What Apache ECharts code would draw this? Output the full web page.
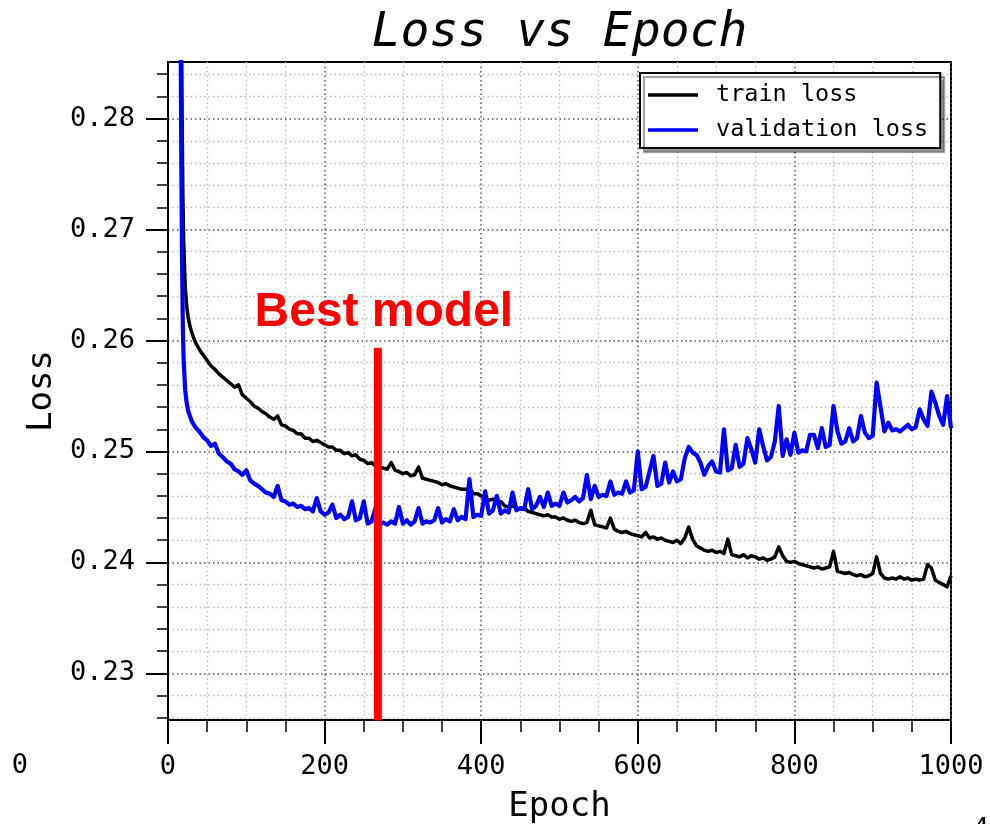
<!DOCTYPE html>
<html>
<head>
<meta charset="utf-8">
<script src="https://cdn.jsdelivr.net/npm/echarts@6/dist/echarts.min.js"></script>
<style>
html,body{margin:0;padding:0;background:#fff;}
#chart{width:990px;height:824px;}
</style>
</head>
<body>
<div id="chart"></div>
<script>
// ---- data ----
const titleText = 'Loss vs Epoch';
const xName = 'Epoch';
const yName = 'Loss';
const seriesNames = ['train loss', 'validation loss'];
const xTicks = [0, 200, 400, 600, 800, 1000];
const yTicks = [0.23, 0.24, 0.25, 0.26, 0.27, 0.28];
const yRange = [0.2258, 0.2851];
const xRange = [0, 1000];

// epochs sampled: dense at the start, then every 5 epochs
const epochs = [15, 16, 17, 18, 19, 20, 22, 24, 26, 28, 30, 33, 36, 40];
for (let e = 45; e <= 1000; e += 5) epochs.push(e);

const trainLoss = [
  0.340, 0.310, 0.292, 0.280, 0.273, 0.2690, 0.2648, 0.2630, 0.2620, 0.2613, 0.2608, 0.2602, 0.2597, 0.2592,
  0.2587, 0.2582, 0.2577, 0.2574, 0.2570, 0.2567, 0.2564, 0.2561, 0.2558, 0.2560,
  0.2551, 0.2548, 0.2545, 0.2541, 0.2539, 0.2536, 0.2534, 0.2531, 0.2529, 0.2532,
  0.2524, 0.2523, 0.2520, 0.2519, 0.2516, 0.2516, 0.2512, 0.2512, 0.2509, 0.2510,
  0.2508, 0.2506, 0.2504, 0.2504, 0.2501, 0.2501, 0.2498, 0.2499, 0.2496, 0.2497,
  0.2493, 0.2492, 0.2489, 0.2490, 0.2487, 0.2486, 0.2485, 0.2484, 0.2490, 0.2483,
  0.2482, 0.2480, 0.2481, 0.2478, 0.2479, 0.2486, 0.2476, 0.2475, 0.2474, 0.2473,
  0.2472, 0.2470, 0.2471, 0.2469, 0.2468, 0.2467, 0.2466, 0.2466, 0.2467, 0.2462,
  0.2462, 0.2460, 0.2458, 0.2456, 0.2457, 0.2454, 0.2455, 0.2451, 0.2450, 0.2451,
  0.2449, 0.2448, 0.2449, 0.2446, 0.2445, 0.2444, 0.2443, 0.2442, 0.2443, 0.2441,
  0.2441, 0.2439, 0.2440, 0.2438, 0.2437, 0.2438, 0.2436, 0.2435, 0.2436, 0.2447,
  0.2434, 0.2433, 0.2432, 0.2431, 0.2440, 0.2430, 0.2428, 0.2427, 0.2428, 0.2426,
  0.2425, 0.2424, 0.2423, 0.2427, 0.2422, 0.2423, 0.2421, 0.2422, 0.2420, 0.2419,
  0.2418, 0.2420, 0.2417, 0.2422, 0.2432, 0.2421, 0.2415, 0.2413, 0.2411, 0.2410,
  0.2411, 0.2409, 0.2410, 0.2408, 0.2421, 0.2407, 0.2406, 0.2405, 0.2407, 0.2404,
  0.2406, 0.2405, 0.2403, 0.2404, 0.2402, 0.2403, 0.2405, 0.2414, 0.2406, 0.2401,
  0.2400, 0.2401, 0.2399, 0.2398, 0.2397, 0.2396, 0.2395, 0.2396, 0.2394, 0.2395,
  0.2396, 0.2410, 0.2392, 0.2391, 0.2390, 0.2391, 0.2389, 0.2388, 0.2389, 0.2387,
  0.2388, 0.2390, 0.2405, 0.2390, 0.2386, 0.2385, 0.2386, 0.2385, 0.2387, 0.2385,
  0.2386, 0.2384, 0.2385, 0.2384, 0.2385, 0.2398, 0.2395, 0.2384, 0.2382, 0.2380,
  0.2378, 0.2388
];

const valLoss = [
  0.330, 0.290, 0.276, 0.267, 0.261, 0.2582, 0.2555, 0.2543, 0.2536, 0.2532, 0.2528, 0.2524, 0.2521, 0.2518,
  0.2513, 0.2510, 0.2505, 0.2507, 0.2498, 0.2495, 0.2491, 0.2489, 0.2484, 0.2482,
  0.2479, 0.2483, 0.2474, 0.2471, 0.2469, 0.2466, 0.2463, 0.2462, 0.2459, 0.2469,
  0.2456, 0.2455, 0.2452, 0.2453, 0.2450, 0.2451, 0.2448, 0.2449, 0.2446, 0.2458,
  0.2446, 0.2443, 0.2445, 0.2452, 0.2440, 0.2443, 0.2439, 0.2441, 0.2455, 0.2438,
  0.2440, 0.2455, 0.2435, 0.2437, 0.2449, 0.2434, 0.2436, 0.2434, 0.2437, 0.2435,
  0.2450, 0.2435, 0.2438, 0.2434, 0.2437, 0.2449, 0.2435, 0.2437, 0.2436, 0.2438,
  0.2449, 0.2436, 0.2439, 0.2437, 0.2448, 0.2438, 0.2441, 0.2439, 0.2475, 0.2441,
  0.2443, 0.2442, 0.2464, 0.2444, 0.2447, 0.2460, 0.2444, 0.2447, 0.2445, 0.2463,
  0.2447, 0.2449, 0.2448, 0.2466, 0.2448, 0.2451, 0.2459, 0.2450, 0.2463, 0.2451,
  0.2453, 0.2451, 0.2463, 0.2454, 0.2456, 0.2459, 0.2455, 0.2458, 0.2479, 0.2457,
  0.2469, 0.2459, 0.2461, 0.2460, 0.2473, 0.2461, 0.2463, 0.2462, 0.2473, 0.2463,
  0.2465, 0.2500, 0.2466, 0.2468, 0.2482, 0.2496, 0.2469, 0.2471, 0.2490, 0.2472,
  0.2482, 0.2473, 0.2475, 0.2494, 0.2504, 0.2499, 0.2497, 0.2490, 0.2479, 0.2487,
  0.2491, 0.2482, 0.2481, 0.2520, 0.2483, 0.2485, 0.2506, 0.2486, 0.2489, 0.2512,
  0.2502, 0.2490, 0.2520, 0.2505, 0.2492, 0.2495, 0.2509, 0.2541, 0.2496, 0.2511,
  0.2497, 0.2517, 0.2499, 0.2501, 0.2500, 0.2515, 0.2515, 0.2503, 0.2521, 0.2504,
  0.2506, 0.2541, 0.2518, 0.2507, 0.2509, 0.2521, 0.2509, 0.2512, 0.2532, 0.2517,
  0.2512, 0.2514, 0.2562, 0.2540, 0.2518, 0.2526, 0.2519, 0.2520, 0.2518, 0.2521,
  0.2524, 0.2520, 0.2522, 0.2538, 0.2529, 0.2523, 0.2554, 0.2544, 0.2532, 0.2524,
  0.2550, 0.2521
];

const bestModelLabel = 'Best model';
const bestModelEpoch = 268;
const bestModelLine = [0.2593, 0.2258];

// ---- chart ----
const MONO = "'DejaVu Sans Mono', monospace";
const zip = (xs, ys) => xs.map((x, i) => [x, ys[i]]);

const chart = echarts.init(document.getElementById('chart'), null, { renderer: 'canvas' });

const majorGrid = { color: '#555', width: 1.5, type: [1.5, 3] };
const minorGrid = { color: '#bdbdbd', width: 1.3, type: [1.5, 3] };

chart.setOption({
  animation: false,
  backgroundColor: '#fff',
  grid: {
    left: 168, right: 39, top: 62, bottom: 104,
    show: true, borderColor: '#000', borderWidth: 2, backgroundColor: 'transparent'
  },
  legend: {
    data: seriesNames.map(n => ({ name: n })),
    orient: 'vertical',
    left: 640, top: 73,
    icon: 'rect',
    itemWidth: 50, itemHeight: 3.5,
    itemGap: 7,
    padding: [8, 12, 4, 8],
    backgroundColor: '#fff',
    borderColor: '#000', borderWidth: 2, borderRadius: 0,
    shadowColor: 'rgba(0,0,0,0.4)', shadowBlur: 1, shadowOffsetX: 4, shadowOffsetY: 4,
    textStyle: { fontFamily: MONO, fontSize: 23.5, color: '#000', lineHeight: 28, padding: [0, 0, 0, 13] },
    selectedMode: false
  },
  xAxis: {
    type: 'value', min: xRange[0], max: xRange[1],
    axisLine: { show: true, onZero: false, lineStyle: { color: '#000', width: 2 } },
    axisTick: { show: true, inside: false, length: 24, customValues: xTicks, lineStyle: { color: '#000', width: 2 } },
    minorTick: { show: true, splitNumber: 4, length: 12, lineStyle: { color: '#000', width: 1.5 } },
    axisLabel: { customValues: xTicks, formatter: v => String(v), margin: 33, fontFamily: MONO, fontSize: 27, color: '#000' },
    splitLine: { show: true, lineStyle: majorGrid },
    minorSplitLine: { show: true, lineStyle: minorGrid }
  },
  yAxis: {
    type: 'value', min: yRange[0], max: yRange[1],
    axisLine: { show: true, onZero: false, lineStyle: { color: '#000', width: 2 } },
    axisTick: { show: true, inside: false, length: 22, customValues: yTicks, lineStyle: { color: '#000', width: 2 } },
    minorTick: { show: true, splitNumber: 5, length: 11, lineStyle: { color: '#000', width: 1.5 } },
    axisLabel: { customValues: yTicks, formatter: v => String(v), margin: 33, fontFamily: MONO, fontSize: 27, color: '#000' },
    splitLine: { show: true, lineStyle: majorGrid },
    minorSplitLine: { show: true, lineStyle: minorGrid }
  },
  series: [
    {
      name: seriesNames[0], type: 'line', data: zip(epochs, trainLoss),
      symbol: 'none', clip: true, z: 3,
      lineStyle: { color: '#000', width: 3.5, join: 'round' }, itemStyle: { color: '#000' }
    },
    {
      name: seriesNames[1], type: 'line', data: zip(epochs, valLoss),
      symbol: 'none', clip: true, z: 4,
      lineStyle: { color: '#0000ff', width: 4.2, join: 'round' }, itemStyle: { color: '#0000ff' }
    },
    {
      name: bestModelLabel, type: 'line',
      data: bestModelLine.map((v, i) => ({
        value: [bestModelEpoch, v],
        label: i === 0 ? {
          show: true, position: 'top', distance: 11, offset: [6, 0],
          formatter: bestModelLabel,
          fontFamily: "'Liberation Sans', Arial, sans-serif", fontWeight: 'bold',
          fontSize: 48, lineHeight: 48, color: '#ff0000'
        } : { show: false }
      })),
      symbol: 'rect', symbolSize: [8, 1], showSymbol: true, showAllSymbol: true, clip: false, z: 5,
      lineStyle: { color: '#ff0000', width: 8, cap: 'butt' }, itemStyle: { color: '#ff0000' }
    }
  ],
  graphic: [
    { type: 'text', x: 559.5, y: 34, style: { text: titleText, font: "italic 48px 'DejaVu Sans Mono'", fill: '#000', align: 'center', verticalAlign: 'middle' } },
    { type: 'text', x: 559.5, y: 807, style: { text: xName, font: "34px 'DejaVu Sans Mono'", fill: '#000', align: 'center', verticalAlign: 'middle' } },
    { type: 'text', x: 42, y: 391, rotation: Math.PI / 2, style: { text: yName, font: "34px 'DejaVu Sans Mono'", fill: '#000', align: 'center', verticalAlign: 'middle' } },
    { type: 'text', x: 20, y: 766, style: { text: '0', font: "27px 'DejaVu Sans Mono'", fill: '#000', align: 'center', verticalAlign: 'middle' } },
    { type: 'text', x: 981, y: 830, style: { text: '4', font: "27px 'DejaVu Sans Mono'", fill: '#000', align: 'center', verticalAlign: 'middle' } }
  ]
});
</script>
</body>
</html>
